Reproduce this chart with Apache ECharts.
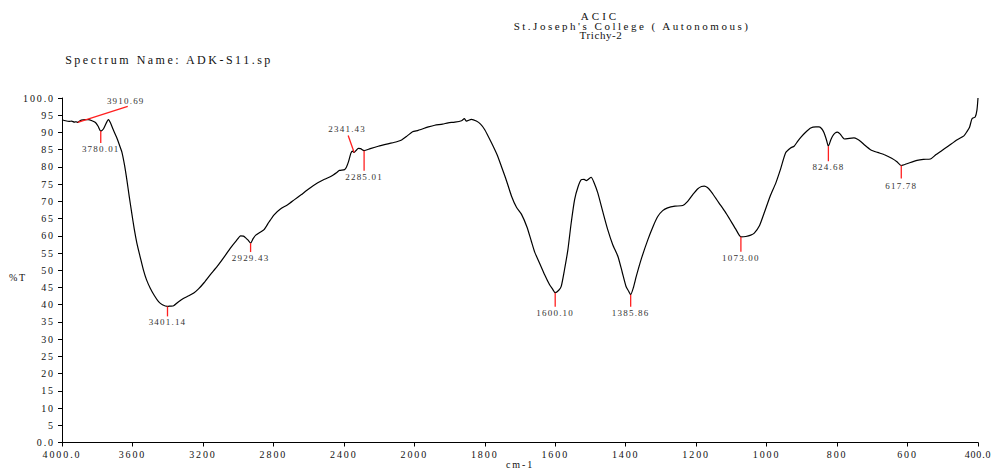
<!DOCTYPE html>
<html>
<head>
<meta charset="utf-8">
<script src="https://cdn.jsdelivr.net/npm/echarts@6/dist/echarts.min.js"></script>
<style>
html,body{margin:0;padding:0;background:#ffffff;}
#chart{width:991px;height:470px;}
</style>
</head>
<body>
<div id="chart"></div>
<script>
// ---- Data ----
const wavenumbers = [
  4000, 3980, 3960, 3945, 3930, 3920, 3910.69, 3900, 3890, 3870, 3850, 3830, 3810, 3795, 3780.01, 3765, 3750, 3737, 3725, 3710,
  3690, 3675, 3660, 3645, 3632, 3618, 3604, 3590, 3575, 3555, 3538, 3520, 3499, 3475, 3452, 3430, 3401.14, 3385, 3366, 3340,
  3309, 3280, 3252, 3225, 3195, 3160, 3119, 3080, 3043, 3010, 2986, 2970, 2957, 2945, 2929.43, 2915, 2900, 2880, 2853, 2825,
  2796, 2760, 2719, 2680, 2643, 2600, 2548, 2510, 2472, 2440, 2425, 2396, 2385, 2373, 2360, 2350, 2341.43, 2330, 2318, 2305,
  2285.01, 2250, 2205, 2150, 2100, 2072, 2040, 2010, 1989, 1960, 1942, 1920, 1904, 1885, 1866, 1858, 1852, 1838, 1824, 1812,
  1800, 1781, 1765, 1753, 1740, 1724, 1710, 1696, 1680, 1668, 1658, 1645, 1630, 1616, 1608, 1600.10, 1590, 1583, 1574, 1564,
  1555, 1545, 1535, 1526, 1518, 1512, 1505, 1498, 1490, 1479, 1465, 1451, 1437, 1422, 1410, 1399, 1392, 1385.86, 1378, 1370,
  1355, 1337, 1322, 1309, 1295, 1281, 1260, 1238, 1224, 1210, 1196, 1185, 1177, 1168, 1158, 1145, 1135, 1118, 1101, 1088,
  1073.00, 1059, 1045, 1035, 1020, 1007, 990, 974, 960, 946, 932, 922, 912, 903, 890, 875, 860, 851, 843, 837,
  830, 824.68, 818, 813, 806, 799, 791, 783, 779, 765, 752, 742, 733, 720, 705, 685, 667, 645, 630, 617.78,
  600, 573, 555, 535, 520, 506, 485, 459, 440, 431, 424, 417, 408, 403, 400
];
const transmittance = [
  93.7, 93.4, 93.2, 93.3, 93.0, 93.1, 92.9, 93.3, 93.6, 93.7, 93.7, 93.4, 92.9, 91.8, 90.4, 91.0, 92.6, 93.7, 92.8, 90.9,
  88.6, 86.5, 84.3, 80.5, 76.3, 71.3, 66.6, 62.0, 57.9, 53.6, 50.1, 47.2, 44.8, 42.6, 40.9, 40.0, 39.5, 39.6, 39.7, 40.8,
  41.9, 42.6, 43.4, 44.6, 46.3, 48.6, 51.1, 53.8, 56.5, 58.6, 60.0, 59.9, 59.4, 58.8, 57.9, 59.2, 60.2, 60.9, 61.8, 64.0,
  66.1, 67.8, 69.0, 70.5, 71.9, 73.6, 75.4, 76.4, 77.3, 78.4, 79.0, 79.2, 80.0, 81.6, 84.0, 84.6, 84.2, 84.8, 85.4, 85.3,
  84.7, 85.3, 86.0, 86.7, 87.3, 87.8, 89.0, 90.2, 90.6, 91.6, 92.1, 92.4, 92.8, 93.0, 93.4, 94.0, 93.3, 93.8, 93.3, 92.4,
  90.8, 87.0, 83.5, 80.2, 76.5, 71.5, 68.3, 66.3, 62.5, 58.5, 55.2, 52.2, 48.7, 45.8, 44.6, 43.5, 44.2, 45.3, 50.0, 56.0,
  63.5, 70.5, 74.3, 76.3, 76.4, 76.0, 76.5, 77.0, 75.5, 72.4, 67.0, 61.8, 57.5, 54.0, 49.5, 45.3, 44.0, 42.9, 45.0, 48.2,
  53.5, 58.9, 62.8, 65.6, 67.3, 68.1, 68.6, 68.8, 70.0, 71.9, 73.6, 74.3, 74.4, 74.0, 72.9, 71.0, 69.5, 67.0, 64.2, 62.0,
  59.7, 59.8, 60.2, 60.8, 63.0, 66.6, 71.5, 75.3, 79.5, 84.1, 85.5, 86.0, 87.4, 88.6, 90.0, 91.3, 91.6, 91.6, 91.0, 89.9,
  87.8, 86.0, 87.8, 88.9, 89.8, 90.1, 89.5, 88.4, 88.1, 88.3, 88.4, 88.0, 87.4, 86.2, 85.0, 84.2, 83.6, 82.5, 81.5, 80.4,
  81.0, 81.9, 82.2, 82.3, 83.5, 84.5, 86.0, 87.9, 89.0, 90.3, 91.5, 94.0, 94.5, 96.5, 100.0
];
const peakWavenumbers = [3910.69, 3780.01, 3401.14, 2929.43, 2341.43, 2285.01, 1600.10, 1385.86, 1073.00, 824.68, 617.78];
const peakTransmittance = [92.9, 90.4, 39.5, 57.9, 84.2, 84.7, 43.5, 42.9, 59.7, 86.0, 80.4];
const peakLabels = ['3910.69', '3780.01', '3401.14', '2929.43', '2341.43', '2285.01', '1600.10', '1385.86', '1073.00', '824.68', '617.78'];
const xTickValues = [4000, 3600, 3200, 2800, 2400, 2000, 1800, 1600, 1400, 1200, 1000, 800, 600, 400];
const xTickLabels = ['4000.0', '3600', '3200', '2800', '2400', '2000', '1800', '1600', '1400', '1200', '1000', '800', '600', '400.0'];
const yTickValues = [100, 0];
const yTickLabels = ['100.0', '0.0'];
const headerLines = ['ACIC', "St.Joseph's College ( Autonomous)", 'Trichy-2'];
const spectrumName = 'Spectrum Name: ADK-S11.sp';
const xAxisTitle = 'cm-1';
const yAxisTitle = '%T';

// ---- Axis scale: IR spectra use a 2x compressed scale above 2000 cm-1 ----
const BREAK = 2000;
function toAxis(w) { return w > BREAK ? BREAK + (w - BREAK) / 2 : w; }
function fromAxis(u) { return u > BREAK ? BREAK + (u - BREAK) * 2 : u; }

const FONT = '"Liberation Serif", "Times New Roman", serif';
const spectrumData = wavenumbers.map((w, i) => [toAxis(w), transmittance[i]]);
const peakData = peakWavenumbers.map((w, i) => [toAxis(w), peakTransmittance[i], i]);

// label placement styles for each peak marker (pixel offsets from the peak point)
const markerStyle = {
  '3910.69': { line: [50, -16], text: [48, -21] },
  '3780.01': { line: [0, 12], text: [0, 18] },
  '3401.14': { line: [0, 10], text: [0, 16] },
  '2929.43': { line: [0, 9], text: [0, 15] },
  '2341.43': { line: [-6, -17], text: [-7, -23] },
  '2285.01': { line: [0, 20], text: [0, 26] },
  '1600.10': { line: [0, 14], text: [0, 20] },
  '1385.86': { line: [0, 12], text: [0, 18] },
  '1073.00': { line: [0, 15], text: [0, 21] },
  '824.68': { line: [0, 15], text: [0, 21] },
  '617.78': { line: [0, 13], text: [0, 20] }
};

const chart = echarts.init(document.getElementById('chart'), null, { renderer: 'svg' });

function headerText(x, y, text, size) {
  return { type: 'text', x: x, y: y, style: { text: text, font: size + 'px ' + FONT, fill: '#111', textAlign: 'center', textVerticalAlign: 'middle' } };
}

const option = {
  animation: false,
  backgroundColor: '#ffffff',
  textStyle: { fontFamily: FONT },
  graphic: [
    headerText(600, 15.5, headerLines[0], 11),
    headerText(632, 25.5, headerLines[1], 11),
    headerText(601, 34.5, headerLines[2], 11),
    headerText(169, 60, spectrumName, 12)
  ],
  grid: { left: 62, right: 13, top: 98, bottom: 27.5, containLabel: false, outerBoundsMode: 'none' },
  xAxis: {
    type: 'value',
    inverse: true,
    min: 400,
    max: 3000,
    interval: 200,
    name: xAxisTitle,
    nameLocation: 'middle',
    nameGap: 17,
    nameMoveOverlap: false,
    nameTextStyle: { fontFamily: FONT, fontSize: 10, color: '#111' },
    axisLine: { show: true, onZero: false, lineStyle: { color: '#000', width: 1 } },
    axisTick: { show: true, inside: false, length: 4, lineStyle: { color: '#000' } },
    axisLabel: {
      margin: 7,
      fontFamily: FONT,
      fontSize: 10,
      color: '#111',
      showMinLabel: true,
      showMaxLabel: true,
      formatter: function (u) {
        const w = Math.round(fromAxis(u));
        const k = xTickValues.indexOf(w);
        return k >= 0 ? xTickLabels[k] : String(w);
      }
    },
    splitLine: { show: false }
  },
  yAxis: {
    type: 'value',
    min: 0,
    max: 100,
    interval: 5,
    name: yAxisTitle,
    nameLocation: 'middle',
    nameRotate: 0,
    nameGap: 44,
    nameMoveOverlap: false,
    nameTextStyle: { fontFamily: FONT, fontSize: 10, color: '#111', align: 'center', verticalAlign: 'top', padding: [2, 0, 0, 0] },
    axisLine: { show: true, lineStyle: { color: '#000', width: 1 } },
    axisTick: { show: true, inside: false, length: 4, lineStyle: { color: '#000' } },
    axisLabel: {
      margin: 7,
      fontFamily: FONT,
      fontSize: 10,
      color: '#111',
      formatter: function (v) {
        const k = yTickValues.indexOf(v);
        return k >= 0 ? yTickLabels[k] : String(v);
      }
    },
    splitLine: { show: false }
  },
  series: [
    {
      type: 'line',
      data: spectrumData,
      showSymbol: false,
      symbol: 'none',
      smooth: 0.2,
      lineStyle: { color: '#000', width: 1.2 },
      silent: true,
      z: 2
    },
    {
      type: 'custom',
      data: peakData,
      silent: true,
      z: 3,
      renderItem: function (params, api) {
        const p = api.coord([api.value(0), api.value(1)]);
        const lab = peakLabels[api.value(2)];
        const st = markerStyle[lab] || { line: [0, 14], text: [0, 20] };
        return {
          type: 'group',
          children: [
            {
              type: 'line',
              shape: { x1: p[0], y1: p[1], x2: p[0] + st.line[0], y2: p[1] + st.line[1] },
              style: { stroke: '#ff2020', lineWidth: 1.3 }
            },
            {
              type: 'text',
              x: p[0] + st.text[0],
              y: p[1] + st.text[1],
              style: {
                text: lab,
                font: '9px ' + FONT,
                fill: '#333',
                textAlign: 'center',
                textVerticalAlign: 'middle',
                align: 'center',
                verticalAlign: 'middle'
              }
            }
          ]
        };
      }
    }
  ]
};

chart.setOption(option);

// The reference text is drawn horizontally stretched; emulate with letter spacing.
const headerSpacing = ['3px', '2.5px', '0.6px'];
function applySpacing() {
  document.querySelectorAll('#chart text').forEach(function (t) {
    const s = t.textContent;
    let ls = '1.9px';
    const h = headerLines.indexOf(s);
    if (h >= 0) ls = headerSpacing[h];
    else if (s === spectrumName) ls = '2.5px';
    else if (peakLabels.indexOf(s) >= 0) ls = '1.2px';
    else if (s === xTickLabels[xTickLabels.length - 1]) ls = '0.8px';
    t.style.letterSpacing = ls;
  });
}
chart.on('finished', applySpacing);
applySpacing();
setTimeout(applySpacing, 0);
requestAnimationFrame(applySpacing);
</script>
</body>
</html>
